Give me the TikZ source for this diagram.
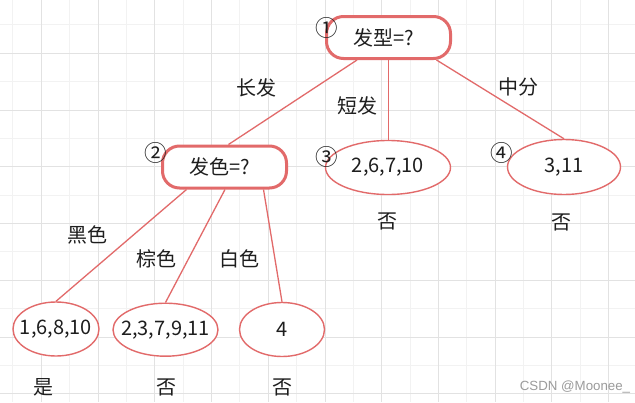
\documentclass[tikz,border=0pt]{standalone}
\usepackage{fontspec}
\setmainfont{Noto Sans CJK SC}
\newfontfamily\wmfont{Liberation Sans}
\usetikzlibrary{shapes.geometric,calc}
\definecolor{edgered}{RGB}{226,106,106}
\definecolor{gridmajor}{RGB}{226,226,226}
\definecolor{gridminor}{RGB}{242,242,242}
\definecolor{txt}{RGB}{30,30,30}
\definecolor{wmgray}{RGB}{155,155,155}
\pgfdeclarelayer{gridlayer}
\pgfdeclarelayer{edgelayer}
\pgfsetlayers{gridlayer,edgelayer,main}
\begin{document}
\begin{tikzpicture}[x=1pt,y=-1pt,
  basefont/.style={font=\fontsize{20}{24}\selectfont, text=txt},
  rbox/.style={basefont, draw=edgered, line width=3pt, fill=white, rounded corners=17pt,
    minimum width=124pt, minimum height=42pt, inner sep=0pt},
  ell/.style={basefont, ellipse, draw=edgered, line width=1.4pt, fill=white, inner sep=0pt},
  conn/.style={draw=edgered, line width=1.3pt},
  lbl/.style={basefont, inner sep=0pt},
  circ/.style={font=\fontsize{22.5}{26}\selectfont, text=txt, inner sep=0pt},
  wm/.style={font=\wmfont\fontsize{13.3}{16}\selectfont, text=wmgray, inner sep=0pt}]
\useasboundingbox (0,0) rectangle (635,402);
\begin{pgfonlayer}{gridlayer}
  \fill[white] (0,0) rectangle (635,402);
  \foreach \i in {0,...,22} {
    \pgfmathsetmacro\xx{12.96+28.37*\i}
    \draw[gridminor, line width=1pt] (\xx,0) -- (\xx,402);
  }
  \foreach \j in {0,...,15} {
    \pgfmathsetmacro\yy{-3.4+28.37*\j}
    \draw[gridminor, line width=1pt] (0,\yy) -- (635,\yy);
  }
  \foreach \i in {0,...,11} {
    \pgfmathsetmacro\xx{-15.41+56.74*\i}
    \draw[gridmajor, line width=1pt] (\xx,0) -- (\xx,402);
  }
  \foreach \j in {0,...,7} {
    \pgfmathsetmacro\yy{-3.4+56.74*\j}
    \draw[gridmajor, line width=1pt] (0,\yy) -- (635,\yy);
  }
\end{pgfonlayer}

% nodes
\node[rbox] (n1) at (388.5,37.5) {发型=?\kern10pt};
\node[rbox] (n2) at (224.5,167) {发色=?\kern10pt};
\node[ell, minimum width=125pt, minimum height=54pt] (n3) at (388,167.5) {\makebox[0pt]{2,6,7,10}};
\node[ell, minimum width=113pt, minimum height=55pt] (n4) at (564,167) {\makebox[0pt]{3,11}};
\node[ell, minimum width=86pt, minimum height=54pt] (b1) at (56,329) {\makebox[0pt]{1,6,8,10}};
\node[ell, minimum width=105pt, minimum height=53pt] (b2) at (165.5,329.7) {\makebox[0pt]{2,3,7,9,11}};
\node[ell, minimum width=85pt, minimum height=54pt] (b3) at (282,329.5) {\makebox[0pt]{4}};

% connectors
\begin{pgfonlayer}{edgelayer}
  \draw[conn] ($(n1.south)+(-31.5,0)$) -- ($(n2.north)+(4,0)$);
  \draw[conn] (n1.south) -- (n1.south |- n3.north);
  \draw[conn] ($(n1.south)+(48,0)$) -- (n4.north);
  \draw[conn] ($(n2.south)+(-38,0)$) -- (b1.north);
  \draw[conn] ($(n2.south)+(0.5,0)$) -- (b2.north);
  \draw[conn] ($(n2.south)+(39,0)$) -- (b3.north);
\end{pgfonlayer}

% circled numbers
\node[circ] (c1) at (327,27.5) {①};
\node[circ] (c2) at (156,152.5) {②};
\node[circ] (c3) at (326.5,157) {③};
\node[circ] (c4) at (501.5,152.5) {④};

% edge labels
\node[lbl] (l1) at (256.3,87.5) {长发};
\node[lbl] (l2) at (357.8,105.5) {短发};
\node[lbl] (l3) at (518,87) {中分};
\node[lbl] (l4) at (87.5,235) {黑色};
\node[lbl] (l5) at (156.7,258.5) {棕色};
\node[lbl] (l6) at (239.5,258.5) {白色};

% results
\node[lbl] (r3) at (387.5,221) {否};
\node[lbl] (r4) at (561,222) {否};
\node[lbl] (rb1) at (43,387) {是};
\node[lbl] (rb2) at (166,387) {否};
\node[lbl] (rb3) at (282,387) {否};

\node[wm] (wm) at (575,387) {CSDN @Moonee\_};
\end{tikzpicture}
\end{document}
